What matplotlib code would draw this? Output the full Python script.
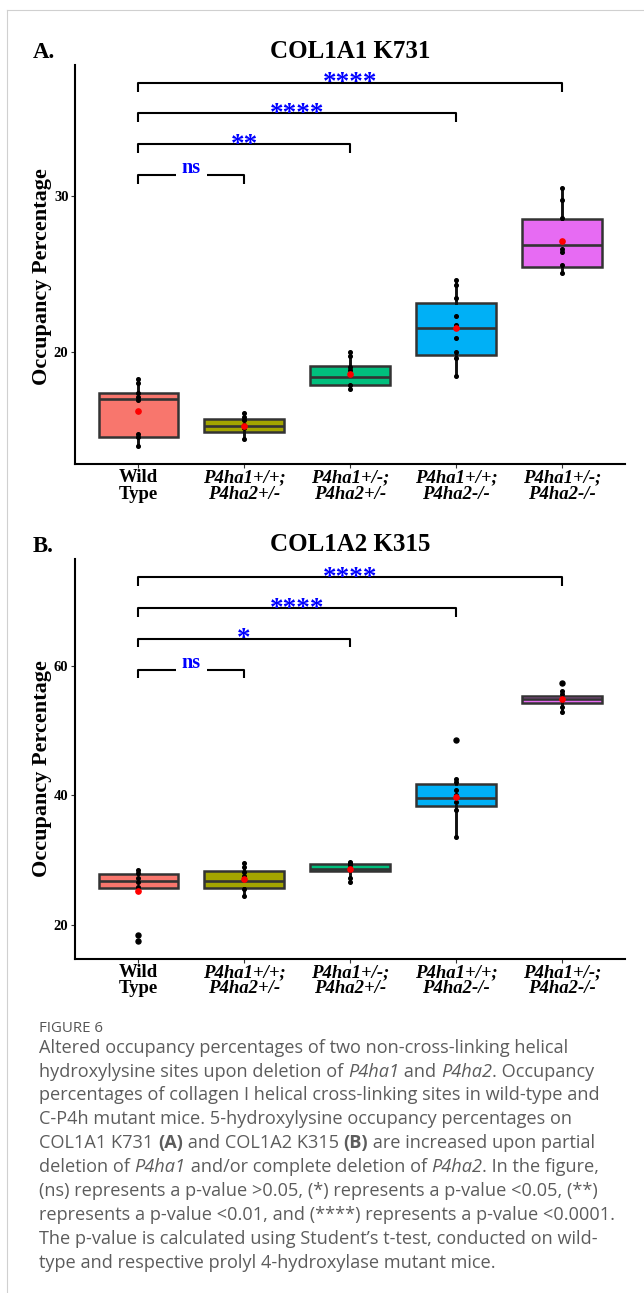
import matplotlib; matplotlib.use("Agg")
import matplotlib.pyplot as plt
from matplotlib.lines import Line2D

SERIF = 'Liberation Serif'
SANS = 'Open Sans'

# ── data ──────────────────────────────────────────────────────────────────────
groups = ["Wild\nType", "P4ha1+/+;\nP4ha2+/-", "P4ha1+/-;\nP4ha2+/-",
          "P4ha1+/+;\nP4ha2-/-", "P4ha1+/-;\nP4ha2-/-"]
colors = ["#F8766D", "#A3A500", "#00BF7D", "#00B0F6", "#E76BF3"]

# COL1A1 K731
a_q1   = [14.55, 14.87, 17.85, 19.79, 25.40]
a_med  = [16.97, 15.26, 18.40, 21.50, 26.84]
a_q3   = [17.33, 15.71, 19.08, 23.10, 28.50]
a_lo   = [13.95, 14.38, 17.60, 18.44, 25.03]
a_hi   = [18.25, 16.05, 19.96, 24.60, 30.47]
a_mean = [16.20, 15.26, 18.55, 21.50, 27.10]
a_out  = [[], [], [], [], []]
a_pts  = [[18.25, 17.97, 17.33, 17.12, 16.90, 14.70, 14.55, 13.95],
          [16.05, 15.80, 15.60, 15.30, 15.10, 14.40],
          [19.96, 19.70, 19.05, 18.80, 18.55, 17.85, 17.60],
          [24.60, 24.30, 23.45, 22.30, 21.70, 21.50, 20.85, 19.95, 19.60, 18.44],
          [30.47, 29.72, 28.55, 27.10, 26.60, 26.40, 25.55, 25.03]]
a_brk  = [31.31, 33.29, 35.28, 37.24]
a_sig  = ["ns", "**", "****", "****"]

# COL1A2 K315
b_q1   = [25.69, 25.79, 28.36, 38.36, 54.15]
b_med  = [26.77, 26.77, 28.67, 39.59, 54.77]
b_q3   = [27.85, 28.31, 29.49, 41.79, 55.28]
b_lo   = [25.69, 24.46, 26.57, 33.59, 52.82]
b_hi   = [28.46, 29.59, 29.74, 42.56, 56.15]
b_mean = [25.25, 27.03, 28.67, 39.74, 54.77]
b_out  = [[18.46, 17.58], [], [], [48.60], [57.28]]
b_pts  = [[28.46, 27.95, 27.18, 26.66, 25.80],
          [29.59, 28.97, 28.20, 27.54, 27.03, 25.49, 24.46],
          [29.74, 29.58, 29.23, 28.72, 27.28, 26.57],
          [42.56, 42.05, 40.87, 40.00, 39.74, 38.97, 37.69, 33.59],
          [56.15, 55.64, 54.77, 53.59, 52.82]]
b_brk  = [59.29, 64.10, 68.83, 73.60]
b_sig  = ["ns", "*", "****", "****"]

pairs = [(1, 2), (1, 3), (1, 4), (1, 5)]

# caption lines as (text, style) runs: n = normal, i = italic, b = bold
caption = [
    [("Altered occupancy percentages of two non-cross-linking helical", "n")],
    [("hydroxylysine sites upon deletion of ", "n"), ("P4ha1", "i"), (" and ", "n"),
     ("P4ha2", "i"), (". Occupancy", "n")],
    [("percentages of collagen I helical cross-linking sites in wild-type and", "n")],
    [("C-P4h mutant mice. 5-hydroxylysine occupancy percentages on", "n")],
    [("COL1A1 K731 ", "n"), ("(A)", "b"), (" and COL1A2 K315 ", "n"), ("(B)", "b"),
     (" are increased upon partial", "n")],
    [("deletion of ", "n"), ("P4ha1", "i"), (" and/or complete deletion of ", "n"),
     ("P4ha2", "i"), (". In the figure,", "n")],
    [("(ns) represents a p-value >0.05, (*) represents a p-value <0.05, (**)", "n")],
    [("represents a p-value <0.01, and (****) represents a p-value <0.0001.", "n")],
    [("The p-value is calculated using Student\u2019s t-test, conducted on wild-", "n")],
    [("type and respective prolyl 4-hydroxylase mutant mice.", "n")],
]

# ── layout (pixel helpers) ────────────────────────────────────────────────────
W, H = 644, 1293
fx = lambda px: px / W
fy = lambda py: 1 - py / H

fig = plt.figure(figsize=(W / 100, H / 100), dpi=100)

# page frame
fig.add_artist(Line2D([fx(7), fx(7)], [fy(10), 0], color="#d0d0d0", lw=0.8))
fig.add_artist(Line2D([fx(7), 1], [fy(10), fy(10)], color="#d0d0d0", lw=0.8))


def panel(ax, q1, med, q3, lo, hi, mean, out, pts, brk, sig, ylim, yticks, tip):
    stats = [dict(q1=q1[i], med=med[i], q3=q3[i], whislo=lo[i], whishi=hi[i],
                  fliers=out[i]) for i in range(len(groups))]
    pos = list(range(1, len(groups) + 1))
    bp = ax.bxp(stats, positions=pos, widths=0.75, patch_artist=True,
                showcaps=False,
                boxprops=dict(edgecolor="#333333", linewidth=1.8),
                medianprops=dict(color="#333333", linewidth=1.9),
                whiskerprops=dict(color="#111111", linewidth=2.1),
                flierprops=dict(marker="o", markerfacecolor="black",
                                markeredgecolor="black", markersize=3.6))
    for patch, c in zip(bp["boxes"], colors):
        patch.set_facecolor(c)
    for i, p in enumerate(pts):
        ax.plot([pos[i]] * len(p), p, "o", color="black", ms=2.6, zorder=4)
    ax.plot(pos, mean, "o", color="red", ms=3.8, zorder=5)

    # significance brackets
    for (g1, g2), y, s in zip(pairs, brk, sig):
        ax.plot([g1, g1, g2, g2], [y - tip, y, y, y - tip], color="black",
                lw=1.5, clip_on=False, solid_capstyle="butt")
        xm = (g1 + g2) / 2
        if s == "ns":
            ax.annotate(s, (xm, y), xytext=(0, 1.6), textcoords="offset points",
                        ha="center", va="baseline", color="#0000FF",
                        fontsize=14.5, fontweight="bold", family=SERIF,
                        bbox=dict(boxstyle="square,pad=0.3", fc="white", ec="none"))
        else:
            ax.annotate(s, (xm, y), xytext=(0, -5.3), textcoords="offset points",
                        ha="center", va="baseline", color="#0000FF",
                        fontsize=19.5, fontweight="bold", family=SERIF)

    ax.set_xlim(0.4, 5.6)
    ax.set_ylim(*ylim)
    ax.set_yticks(yticks)
    ax.set_yticklabels([str(t) for t in yticks], fontsize=10.5, fontweight="bold",
                       family=SERIF)
    ax.set_xticks(pos)
    ax.set_xticklabels(groups, fontsize=13.5, fontweight="bold", family=SERIF,
                       linespacing=0.95)
    for i, lbl in enumerate(ax.get_xticklabels()):
        if i > 0:
            lbl.set_fontstyle("italic")
    ax.tick_params(axis="both", length=3, width=0.8, color="#333333", pad=1.5)
    ax.tick_params(axis="x", pad=0.8)
    for side in ("top", "right"):
        ax.spines[side].set_visible(False)
    for side in ("left", "bottom"):
        ax.spines[side].set_linewidth(1.5)
        ax.spines[side].set_color("black")


axA = fig.add_axes([fx(74.7), fy(464), (625.5 - 74.7) / W, (464 - 65) / H])
panel(axA, a_q1, a_med, a_q3, a_lo, a_hi, a_mean, a_out, a_pts, a_brk, a_sig,
      (12.8, 38.38), [20, 30], 0.58)

axB = fig.add_axes([fx(74.7), fy(958.7), (625.5 - 74.7) / W, (958.7 - 559.3) / H])
panel(axB, b_q1, b_med, b_q3, b_lo, b_hi, b_mean, b_out, b_pts, b_brk, b_sig,
      (14.82, 76.37), [20, 40, 60], 1.28)

# titles, panel letters, y labels
for ty, title, letter, yl in [(51, "COL1A1 K731", "A.", 277),
                              (544.5, "COL1A2 K315", "B.", 769)]:
    fig.text(fx(350), fy(ty), title, ha="center", va="center", fontsize=18,
             fontweight="bold", family=SERIF)
    fig.text(fx(32.5), fy(ty + 2), letter, ha="left", va="center", fontsize=16.5,
             fontweight="bold", family=SERIF)
    fig.text(fx(42), fy(yl), "Occupancy Percentage", rotation=90, ha="center",
             va="center", fontsize=16, fontweight="bold", family=SERIF)

# ── caption ───────────────────────────────────────────────────────────────────
CAP_FS, CAP_COL = 13.1, "#5c5c5c"
renderer = fig.canvas.get_renderer()


def run_props(sty):
    return dict(fontsize=CAP_FS, color=CAP_COL, family=SANS,
                fontstyle="italic" if sty == "i" else "normal",
                fontweight="bold" if sty == "b" else "normal")


def run_width(s, props):
    t = fig.text(0, 0, "x" + s + "x", **props)
    w1 = t.get_window_extent(renderer).width
    t.set_text("xx")
    w0 = t.get_window_extent(renderer).width
    t.remove()
    return w1 - w0


fig.text(fx(39), fy(1031.7), "FIGURE 6", ha="left", va="baseline", fontsize=10.8,
         color="#555555", family=SANS)
for k, line in enumerate(caption):
    x = 39.0
    for s, sty in line:
        props = run_props(sty)
        fig.text(fx(x), fy(1052.7 + 23.9 * k), s, ha="left", va="baseline", **props)
        x += run_width(s, props)

fig.savefig("out.png", dpi=100)
